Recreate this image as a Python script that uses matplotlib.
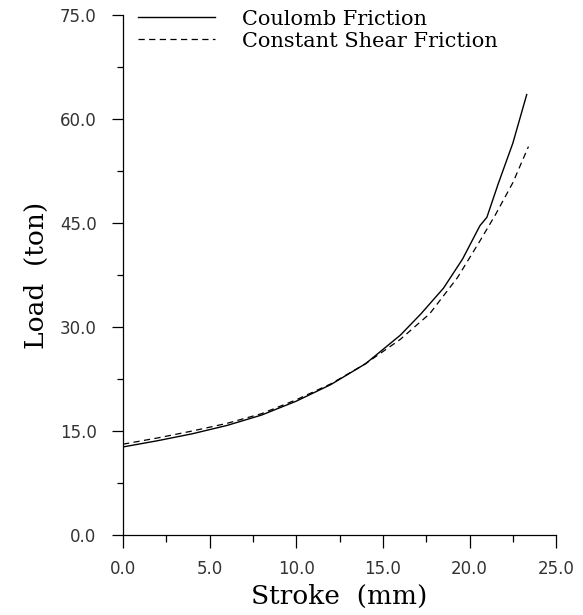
import matplotlib
matplotlib.use('Agg')
from matplotlib import pyplot as plt
from matplotlib.ticker import MultipleLocator, FormatStrFormatter

# values
coulomb_x = [0, 2, 4, 6, 8, 10, 12, 14, 16, 17.2, 18.5, 19.6, 20.6, 21.0, 21.65, 22.5, 23.3]
coulomb_y = [12.7, 13.6, 14.6, 15.8, 17.3, 19.3, 21.7, 24.7, 28.8, 31.9, 35.6, 39.8, 44.6, 45.8, 50.6, 56.5, 63.5]

shear_x = [0, 2, 4, 6, 8, 10, 12, 14, 16, 17.7, 19.3, 20.6, 21.5, 22.5, 23.4]
shear_y = [13.1, 14.0, 15.0, 16.1, 17.5, 19.5, 21.8, 24.7, 28.2, 31.9, 37.1, 42.4, 46.2, 50.8, 56.0]

x_ticks = [0, 5, 10, 15, 20, 25]
y_ticks = [0, 15, 30, 45, 60, 75]

serif = 'DejaVu Serif'

fig = plt.figure(figsize=(5.83, 6.15), dpi=100)
ax = fig.add_axes([0.211, 0.130, 0.743, 0.846])

ax.plot(coulomb_x, coulomb_y, color='black', lw=1.0, label='Coulomb Friction')
ax.plot(shear_x, shear_y, color='black', lw=0.9, ls=(0, (5, 3.5)), label='Constant Shear Friction')

ax.set_xlim(0, 25)
ax.set_ylim(0, 75)
ax.set_xticks(x_ticks)
ax.set_yticks(y_ticks)
ax.xaxis.set_minor_locator(MultipleLocator(2.5))
ax.yaxis.set_minor_locator(MultipleLocator(7.5))
ax.xaxis.set_major_formatter(FormatStrFormatter('%.1f'))
ax.yaxis.set_major_formatter(FormatStrFormatter('%.1f'))

for side in ['top', 'right']:
    ax.spines[side].set_visible(False)
for side in ['left', 'bottom']:
    ax.spines[side].set_linewidth(0.9)

ax.tick_params(axis='y', which='major', direction='out', length=8, width=0.9, pad=11,
               labelsize=12, labelcolor='#333333')
ax.tick_params(axis='y', which='minor', direction='out', length=4, width=0.9)
ax.tick_params(axis='x', which='major', direction='out', length=9, width=0.9, pad=9,
               labelsize=12, labelcolor='#333333')
ax.tick_params(axis='x', which='minor', direction='out', length=5, width=0.9)
for lbl in ax.get_xticklabels() + ax.get_yticklabels():
    lbl.set_family('DejaVu Sans')

ax.set_xlabel('Stroke  (mm)', family=serif, fontsize=19, labelpad=4)
ax.set_ylabel('Load  (ton)', family=serif, fontsize=19, labelpad=8)

leg = ax.legend(loc='upper left', bbox_to_anchor=(15 / 433, 1.01), frameon=False,
                prop={'family': serif, 'size': 15}, handlelength=3.7, handletextpad=1.3,
                borderaxespad=0, borderpad=0, labelspacing=0.15)

fig.savefig('out.png', dpi=100)
